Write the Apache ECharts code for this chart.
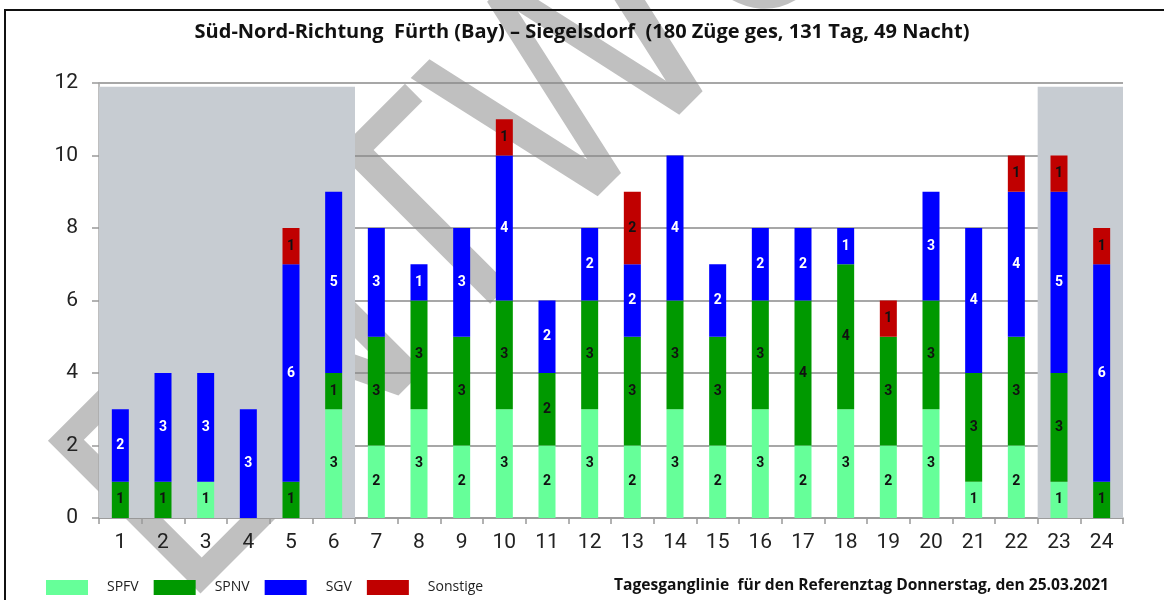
<!DOCTYPE html>
<html>
<head>
<meta charset="utf-8">
<script src="https://cdn.jsdelivr.net/npm/echarts@6/dist/echarts.min.js"></script>
<style>
html,body{margin:0;padding:0;background:#fff;}
#chart{width:1164px;height:600px;}
</style>
</head>
<body>
<div id="chart"></div>
<script>
const hours = ['1','2','3','4','5','6','7','8','9','10','11','12','13','14','15','16','17','18','19','20','21','22','23','24'];
const spfv   = [0,0,1,0,0,3,2,3,2,3,2,3,2,3,2,3,2,3,2,3,1,2,1,0];
const spnv   = [1,1,0,0,1,1,3,3,3,3,2,3,3,3,3,3,4,4,3,3,3,3,3,1];
const sgv    = [2,3,3,3,6,5,3,1,3,4,2,2,2,4,2,2,2,1,0,3,4,4,5,6];
const sonst  = [0,0,0,0,1,0,0,0,0,1,0,0,2,0,0,0,0,0,1,0,0,1,1,1];
const nightHours = [[1,6],[23,24]];
const yTicks = [0,2,4,6,8,10,12];
const titleText = 'Süd-Nord-Richtung  Fürth (Bay) – Siegelsdorf  (180 Züge ges, 131 Tag, 49 Nacht)';
const footerText = 'Tagesganglinie  für den Referenztag Donnerstag, den 25.03.2021';
const watermarkText = 'ENTWURF';

const FONT = 'Roboto, "DejaVu Sans", sans-serif';
const BOLDFONT = '"Open Sans", Roboto, sans-serif';
const chart = echarts.init(document.getElementById('chart'), null, {renderer:'canvas'});

function barSeries(name, data, color, labelColor) {
  return {
    name, type: 'bar', stack: 'total', data, barWidth: 17,
    xAxisIndex: 0, yAxisIndex: 0,
    itemStyle: { color },
    label: {
      show: true, position: 'inside', color: labelColor,
      fontFamily: FONT, fontWeight: 'bold', fontSize: 14,
      formatter: p => p.value ? String(p.value) : ''
    },
    emphasis: { disabled: true }
  };
}

const option = {
  backgroundColor: '#fff',
  animation: false,
  title: [
    { text: titleText, left: 'center', top: 17,
      textStyle: { fontFamily: BOLDFONT, fontWeight: 'bold', fontSize: 20, color: '#111' } },
    { text: footerText, right: 50, top: 573,
      textStyle: { fontFamily: BOLDFONT, fontWeight: 'bold', fontSize: 15.6, color: '#111' } }
  ],
  graphic: [
    { type: 'text', z: -10, x: 197, y: 590, rotation: Math.PI/4, scaleX: 0.9,
      style: { text: watermarkText, x: -29, y: -72, textVerticalAlign: 'middle', textAlign: 'left',
               font: 'normal 296px "DejaVu Sans"', fill: '#c0c0c0' } },
    { type: 'rect', z: 100, silent: true,
      shape: { x: 5, y: 10, width: 1170, height: 600 },
      style: { fill: 'none', stroke: '#111', lineWidth: 2 } }
  ],
  legend: {
    data: ['SPFV','SPNV','SGV','Sonstige'],
    left: 41, top: 575, icon: 'rect', itemWidth: 42, itemHeight: 15, itemGap: 15,
    selectedMode: false,
    textStyle: { fontFamily: '"Open Sans", Roboto, sans-serif', fontSize: 14, color: '#222', padding: [0,0,0,14] }
  },
  grid: { left: 99, right: 41, top: 83, bottom: 82 },
  xAxis: [
    { type: 'category', data: hours,
      axisLine: { lineStyle: { color: '#999', width: 1.5 } },
      axisTick: { show: true, length: 6, lineStyle: { color: '#999', width: 1.5 } },
      axisLabel: { fontFamily: FONT, fontSize: 21, color: '#222', margin: 14 } },
    { type: 'value', min: 0, max: 24, show: false }
  ],
  yAxis: {
    type: 'value', min: 0, max: 12, interval: 2,
    axisLine: { show: true, lineStyle: { color: '#aaa', width: 1.5 } },
    axisTick: { show: true, length: 7, lineStyle: { color: '#999', width: 1.5 } },
    splitLine: { lineStyle: { color: '#8a8a8a', width: 1.5 } },
    axisLabel: { fontFamily: FONT, fontSize: 21, color: '#222', margin: 21,
                 formatter: v => yTicks.includes(v) ? String(v) : '' }
  },
  series: [
    { type: 'line', xAxisIndex: 1, yAxisIndex: 0, data: [], z: -1, silent: true,
      markArea: { silent: true, itemStyle: { color: '#c7ccd2' },
        data: nightHours.map(r => [{ xAxis: r[0]-1, yAxis: 0 }, { xAxis: r[1], yAxis: 11.9 }]) } },
    barSeries('SPFV', spfv, '#66ff99', '#111'),
    barSeries('SPNV', spnv, '#009900', '#111'),
    barSeries('SGV', sgv, '#0000ff', '#fff'),
    barSeries('Sonstige', sonst, '#c00000', '#111')
  ]
};
chart.setOption(option);
</script>
</body>
</html>
